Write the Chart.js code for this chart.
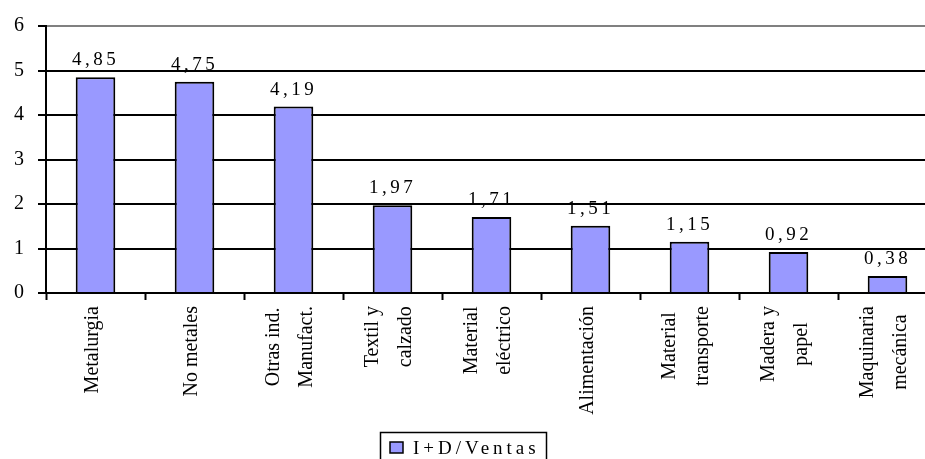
<!DOCTYPE html>
<html lang="es">
<head>
<meta charset="UTF-8">
<title>I+D/Ventas por sector</title>
<script src="https://cdn.jsdelivr.net/npm/chart.js"></script>
<style>
    html, body { margin: 0; padding: 0; background: #fff; overflow: hidden; }
    .chart-box { width: 937px; height: 459px; }
</style>
</head>
<body>

<div class="chart-box">
    <canvas id="gastoID"></canvas>
</div>

<script>
    // Sectores y ratio I+D / ventas (%)
    var sectores = [
        'Metalurgia',
        'No metales',
        ['Otras ind.', 'Manufact.'],
        ['Textil y', 'calzado'],
        ['Material', 'eléctrico'],
        'Alimentación',
        ['Material', 'transporte'],
        ['Madera y', 'papel'],
        ['Maquinaria', 'mecánica']
    ];
    var ratios = [4.85, 4.75, 4.19, 1.97, 1.71, 1.51, 1.15, 0.92, 0.38];
    var ticksY = [0, 1, 2, 3, 4, 5, 6];
    var serieNombre = 'I+D/Ventas';

    var fuente = 'Liberation Serif, Times New Roman, serif';
    var azul = '#9999FF';

    function coma(v) {
        return v.toFixed(2).replace('.', ',');
    }

    // valores encima de cada barra
    var etiquetas = {
        id: 'etiquetas',
        afterDatasetsDraw: function(chart) {
            var ctx = chart.ctx;
            var meta = chart.getDatasetMeta(0);
            ctx.save();
            ctx.font = '19px ' + fuente;
            ctx.fillStyle = '#000';
            ctx.textAlign = 'center';
            ctx.textBaseline = 'alphabetic';
            ctx.letterSpacing = '3.5px';
            meta.data.forEach(function(bar, i) {
                ctx.fillText(coma(ratios[i]), bar.x, bar.y - 12);
            });
            ctx.restore();
        }
    };

    // nombres de sector en vertical, cada bloque pegado al eje y las lineas centradas
    var sectoresEje = {
        id: 'sectoresEje',
        afterDraw: function(chart) {
            var ctx = chart.ctx;
            var x = chart.scales.x;
            var arriba = x.top + 13;
            ctx.save();
            ctx.font = '20px ' + fuente;
            ctx.fillStyle = '#000';
            ctx.textAlign = 'center';
            ctx.textBaseline = 'middle';
            sectores.forEach(function(s, i) {
                var lineas = Array.isArray(s) ? s : [s];
                var ancho = Math.max.apply(null, lineas.map(function(l) { return ctx.measureText(l).width; }));
                var cx = x.getPixelForTick(i) - 3;
                lineas.forEach(function(l, j) {
                    var px = cx + (j - (lineas.length - 1) / 2) * 33;
                    ctx.save();
                    ctx.translate(px, arriba + ancho / 2);
                    ctx.rotate(-Math.PI / 2);
                    ctx.fillText(l, 0, 0);
                    ctx.restore();
                });
            });
            ctx.restore();
        }
    };

    // leyenda con recuadro abajo
    var leyenda = {
        id: 'leyenda',
        afterDraw: function(chart) {
            var ctx = chart.ctx;
            ctx.save();
            ctx.strokeStyle = '#000';
            ctx.lineWidth = 1.5;
            ctx.strokeRect(380.5, 432.5, 166, 40);
            ctx.fillStyle = azul;
            ctx.fillRect(390, 442, 13, 11);
            ctx.strokeRect(390, 442, 13, 11);
            ctx.fillStyle = '#000';
            ctx.font = '19px ' + fuente;
            ctx.textAlign = 'left';
            ctx.textBaseline = 'alphabetic';
            ctx.letterSpacing = '4px';
            ctx.fillText(serieNombre, 413, 454);
            ctx.restore();
        }
    };

    var ctx = document.getElementById('gastoID').getContext('2d');
    var grafico = new Chart(ctx, {
        type: 'bar',
        data: {
            labels: sectores,
            datasets: [{
                label: serieNombre,
                data: ratios,
                backgroundColor: azul,
                borderColor: '#000',
                borderWidth: 2,
                barPercentage: 0.4,
                categoryPercentage: 1
            }]
        },
        options: {
            responsive: true,
            maintainAspectRatio: false,
            animation: false,
            layout: { padding: { top: 20, left: 0, right: 0, bottom: 0 } },
            plugins: {
                legend: { display: false },
                tooltip: { enabled: false }
            },
            scales: {
                x: {
                    offset: true,
                    grid: {
                        offset: true,
                        drawOnChartArea: false,
                        drawTicks: true,
                        tickLength: 7,
                        tickColor: '#000',
                        tickWidth: 2
                    },
                    border: { display: true, color: '#000', width: 2 },
                    ticks: { display: false, autoSkip: false },
                    afterFit: function(scale) {
                        scale.height = 166;
                        scale.paddingLeft = 0;
                        scale.paddingRight = 0;
                    }
                },
                y: {
                    min: 0,
                    max: 6,
                    afterBuildTicks: function(scale) {
                        scale.ticks = ticksY.map(function(v) { return { value: v }; });
                    },
                    grid: {
                        color: function(c) {
                            return c.tick && c.tick.value === 6 ? '#808080' : '#000';
                        },
                        lineWidth: 2,
                        tickLength: 8,
                        tickColor: '#000',
                        tickWidth: 2
                    },
                    border: { display: true, color: '#000', width: 2 },
                    ticks: {
                        color: '#000',
                        padding: 14,
                        font: { family: fuente, size: 20 }
                    },
                    afterFit: function(scale) { scale.width = 46; }
                }
            }
        },
        plugins: [etiquetas, sectoresEje, leyenda]
    });
</script>

</body>
</html>
